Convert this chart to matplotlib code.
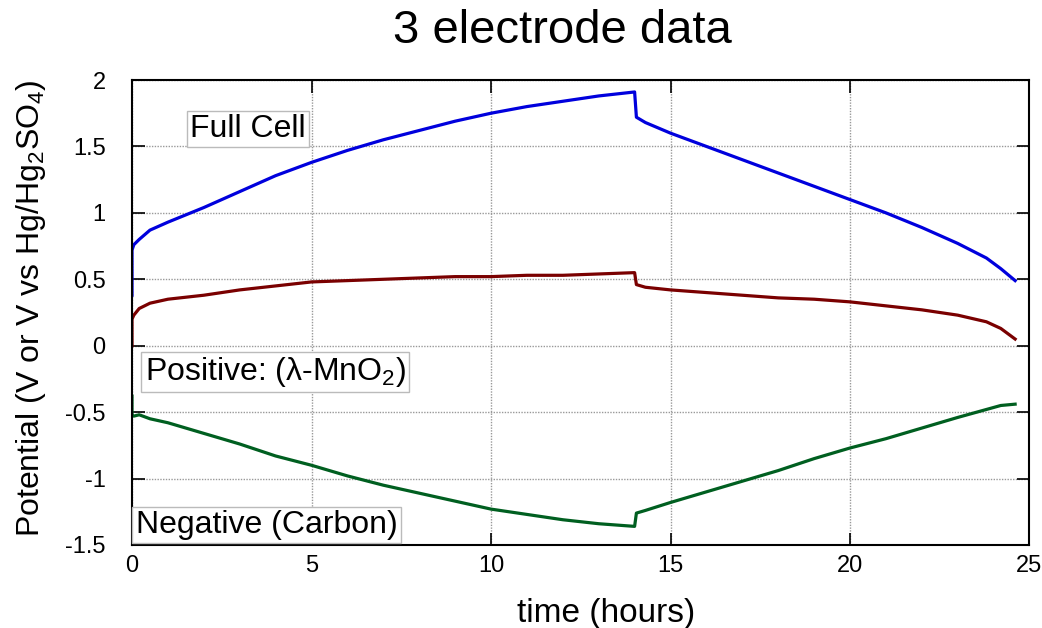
import matplotlib
matplotlib.use("Agg")
import matplotlib.pyplot as plt

plt.rcParams['font.family'] = ['Liberation Sans', 'DejaVu Sans']
plt.rcParams['mathtext.fontset'] = 'custom'
plt.rcParams['mathtext.rm'] = 'Liberation Sans'
plt.rcParams['mathtext.it'] = 'Liberation Sans'

# --- data (time in hours, potential in V) ---
time_h = [0, 0, 0.05, 0.2, 0.5, 1, 2, 3, 4, 5, 6, 7, 8, 9, 10, 11, 12, 13, 14.0,
          14.05, 14.3, 15, 16, 17, 18, 19, 20, 21, 22, 23, 23.8, 24.2, 24.6]

full_cell = [0.38, 0.72, 0.76, 0.80, 0.87, 0.93, 1.04, 1.16, 1.28, 1.38, 1.47, 1.55,
             1.62, 1.69, 1.75, 1.80, 1.84, 1.88, 1.91,
             1.72, 1.68, 1.60, 1.50, 1.40, 1.30, 1.20, 1.10, 1.00, 0.89, 0.77,
             0.66, 0.58, 0.49]

positive = [0.00, 0.20, 0.23, 0.28, 0.32, 0.35, 0.38, 0.42, 0.45, 0.48, 0.49, 0.50,
            0.51, 0.52, 0.52, 0.53, 0.53, 0.54, 0.55,
            0.46, 0.44, 0.42, 0.40, 0.38, 0.36, 0.35, 0.33, 0.30, 0.27, 0.23,
            0.18, 0.13, 0.05]

negative = [-0.38, -0.52, -0.53, -0.52, -0.55, -0.58, -0.66, -0.74, -0.83, -0.90,
            -0.98, -1.05, -1.11, -1.17, -1.23, -1.27, -1.31, -1.34, -1.36,
            -1.26, -1.24, -1.18, -1.10, -1.02, -0.94, -0.85, -0.77, -0.70,
            -0.62, -0.54, -0.48, -0.45, -0.44]

x_ticks = [0, 5, 10, 15, 20, 25]
y_ticks = [-1.5, -1, -0.5, 0, 0.5, 1, 1.5, 2]
y_tick_labels = ['-1.5', '-1', '-0.5', '0', '0.5', '1', '1.5', '2']

fig = plt.figure(figsize=(10.42, 6.28), dpi=100)
ax = fig.add_axes([0.1267, 0.1322, 0.8613, 0.7404])

ax.plot(time_h, full_cell, color='#0000dd', lw=2.3)
ax.plot(time_h, positive, color='#7a0000', lw=2.3)
ax.plot(time_h, negative, color='#005f20', lw=2.3)

ax.set_xlim(0, 25)
ax.set_ylim(-1.5, 2)
ax.set_xticks(x_ticks)
ax.set_yticks(y_ticks)
ax.set_yticklabels(y_tick_labels)
ax.grid(True, color='#999999', linestyle=(0, (1, 1)), lw=1.0)
ax.tick_params(direction='in', length=9, width=1.2, top=True, right=True,
               labelsize=17, colors='black')
ax.tick_params(axis='x', pad=7)
ax.tick_params(axis='y', pad=19)
for s in ax.spines.values():
    s.set_linewidth(1.5)

ax.set_xlabel('time (hours)', fontsize=24)
ax.xaxis.set_label_coords(0.528, -0.115)
# y label placed by hand so it sits where the reference has it
fig.text(0.030, 0.509, r'Potential (V or V vs Hg/Hg$_2$SO$_4$)', fontsize=23,
         rotation=90, ha='center', va='center')
fig.text(0.540, 0.951, '3 electrode data', fontsize=34, ha='center', va='center')

box = dict(facecolor='white', edgecolor='#bbbbbb', boxstyle='square,pad=0.1', lw=1)
ax.text(1.62, 1.63, 'Full Cell', fontsize=23, va='center', bbox=box)
ax.text(0.35, -0.2, r'Positive: (λ-MnO$_2$)', fontsize=23, va='center', bbox=box)
ax.text(0.1, -1.35, 'Negative (Carbon)', fontsize=23, va='center', bbox=box)

fig.savefig('out.png', dpi=100)
